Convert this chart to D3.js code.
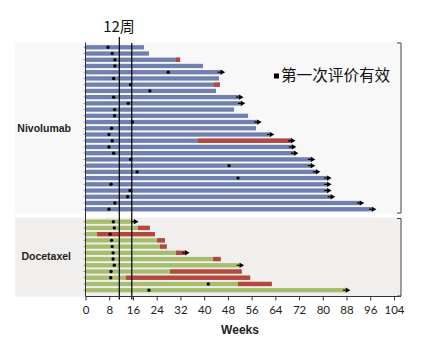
<!DOCTYPE html>
<html><head><meta charset="utf-8">
<script src="https://cdn.jsdelivr.net/npm/d3@7"></script>
<style>html,body{margin:0;padding:0;background:#fff;}svg{display:block;}</style>
</head><body>
<svg id="c" width="425" height="341"></svg>
<script>
// ---- data (weeks) ----
const groups = ["Nivolumab", "Docetaxel"];
const nivoEnd   = [19.7,21.4,31.9,39.6,45.9,45.0,45.3,44.0,52.1,52.7,50.1,54.8,58.2,57.5,62.5,69.6,69.9,70.6,76.3,76.3,78.0,81.8,81.8,81.8,83.0,92.8,96.9];
const nivoDot   = [7.6,9.0,9.9,9.9,27.9,9.5,15.2,21.7,9.5,14.4,9.8,9.8,15.8,8.8,7.9,9.0,7.9,9.5,15.2,48.4,17.4,51.4,8.6,15.0,14.2,9.9,7.9];
const nivoRed   = [null,null,30.5,null,null,null,43.3,null,null,null,null,null,null,null,null,37.9,null,null,null,null,null,null,null,null,null,null,null];
const nivoArrow = [0,0,0,0,1,0,0,0,1,1,0,0,1,0,1,1,1,1,1,1,1,1,1,1,1,1,1];
const doceEnd   = [16.7,21.7,23.4,26.8,27.4,33.9,45.6,52.3,52.7,55.5,62.8,88.1];
const doceDot   = [9.4,9.7,8.3,8.8,9.0,9.3,9.3,9.7,8.6,8.5,41.4,21.4];
const doceRed   = [null,17.7,3.9,24.1,25.1,30.5,43.0,null,28.5,13.6,51.4,null];
const doceArrow = [1,0,0,0,0,1,0,1,0,0,0,1];
const xTicks = [0,8,16,24,32,40,48,56,64,72,80,88,96,104];
const refWeeks = [11.4, 15.6];
const refLabel = "12周";
const legendLabel = "第一次评价有效";
const xTitle = "Weeks";

// ---- build rows ----
const rows = [];
nivoEnd.forEach((e,i)=>rows.push({id:"N"+i, g:0, end:e, dot:nivoDot[i], red:nivoRed[i], arrow:nivoArrow[i]}));
const slots = rows.map(r=>r.id).concat(["gap"]);
doceEnd.forEach((e,i)=>{rows.push({id:"D"+i, g:1, end:e, dot:doceDot[i], red:doceRed[i], arrow:doceArrow[i]}); slots.push("D"+i);});

const colors = {blue:"#7080ae", green:"#a5bd6c", red:"#b5473f"};

const svg = d3.select("#c");
const x = d3.scaleLinear().domain([0,104]).range([85.5,394]);
const y = d3.scalePoint().domain(slots).range([47.3,290.2]);
const bh = 4.3;
const axisY = 296.5, rightX = 401;

// panel backgrounds
svg.append("rect").attr("x",15).attr("y",42.5).attr("width",rightX-15).attr("height",171).attr("fill","#f8f8f8");
svg.append("rect").attr("x",15).attr("y",217.5).attr("width",rightX-15).attr("height",axisY-217.5).attr("fill","#f1efed");

// bars
const g = svg.append("g");
rows.forEach(r=>{
  const base = r.g===0 ? colors.blue : colors.green;
  const yc = y(r.id);
  g.append("rect").attr("x",x(0)).attr("y",yc-bh/2).attr("width",x(r.end)-x(0)).attr("height",bh).attr("fill",base);
  if(r.red!==null){
    g.append("rect").attr("x",x(r.red)).attr("y",yc-bh/2).attr("width",x(r.end)-x(r.red)).attr("height",bh).attr("fill",colors.red);
  }
});
// left axis ticks
slots.forEach(s=>{ if(s!=="gap") svg.append("line").attr("x1",x(0)-2).attr("x2",x(0)).attr("y1",y(s)).attr("y2",y(s)).attr("stroke","#555").attr("stroke-width",0.6); });
// reference lines
svg.append("line").attr("x1",x(refWeeks[0])).attr("x2",x(refWeeks[0])).attr("y1",37).attr("y2",axisY+3).attr("stroke","#000").attr("stroke-width",1.2);
svg.append("line").attr("x1",x(refWeeks[1])).attr("x2",x(refWeeks[1])).attr("y1",43).attr("y2",axisY+3).attr("stroke","#000").attr("stroke-width",1.2);
// dots and arrows
rows.forEach(r=>{
  const yc = y(r.id);
  g.append("circle").attr("cx",x(r.dot)).attr("cy",yc).attr("r",1.7).attr("fill","#000");
  if(r.arrow){
    const xe = x(r.end);
    svg.append("line").attr("x1",xe-4).attr("x2",xe).attr("y1",yc).attr("y2",yc).attr("stroke","#000").attr("stroke-width",1.2);
    svg.append("path").attr("d",`M${xe-1},${yc-2.6}L${xe+3.5},${yc}L${xe-1},${yc+2.6}Z`).attr("fill","#000");
  }
});

// axes lines
svg.append("line").attr("x1",x(0)).attr("x2",x(0)).attr("y1",42.5).attr("y2",axisY).attr("stroke","#333").attr("stroke-width",1);
const xa = svg.append("g").attr("transform",`translate(0,${axisY})`)
  .call(d3.axisBottom(x).tickValues(xTicks).tickSize(4).tickSizeOuter(0));
xa.select(".domain").remove();
xa.selectAll(".tick line").attr("stroke","#333");
xa.selectAll(".tick text").attr("font-family","Lato, 'DejaVu Sans', sans-serif").attr("font-size",11.5).attr("fill","#222").attr("dy","0.95em");
svg.append("line").attr("x1",x(0)).attr("x2",rightX).attr("y1",axisY).attr("y2",axisY).attr("stroke","#333").attr("stroke-width",1);

// brackets
function bracket(y1,y2){
  svg.append("path").attr("d",`M${rightX-4},${y1}H${rightX}V${y2}H${rightX-4}`).attr("fill","none").attr("stroke","#444").attr("stroke-width",1);
}
bracket(43,213);
bracket(218.5,296);

// group labels
svg.append("text").attr("x",71).attr("y",y("N13")+4).attr("text-anchor","end").attr("font-family","Arial, 'Liberation Sans', sans-serif").attr("font-weight","bold").attr("font-size",10.5).attr("fill","#222").text(groups[0]);
svg.append("text").attr("x",71).attr("y",(y("D0")+y("D11"))/2+4).attr("text-anchor","end").attr("font-family","Arial, 'Liberation Sans', sans-serif").attr("font-weight","bold").attr("font-size",10.5).attr("fill","#222").text(groups[1]);

// x title
svg.append("text").attr("x",240).attr("y",334).attr("text-anchor","middle").attr("font-family","Arial, 'Liberation Sans', sans-serif").attr("font-weight","bold").attr("font-size",12).attr("fill","#222").text(xTitle);

// ref label
svg.append("text").attr("x",119).attr("y",32).attr("text-anchor","middle").attr("font-family","'Noto Sans CJK SC', sans-serif").attr("font-size",15).attr("fill","#111").text(refLabel);

// legend
svg.append("rect").attr("x",274).attr("y",73.5).attr("width",5).attr("height",5).attr("fill","#000");
svg.append("text").attr("x",281).attr("y",81).attr("font-family","'Noto Sans CJK SC', sans-serif").attr("font-size",15.6).attr("fill","#111").text(legendLabel);
</script>
</body></html>
